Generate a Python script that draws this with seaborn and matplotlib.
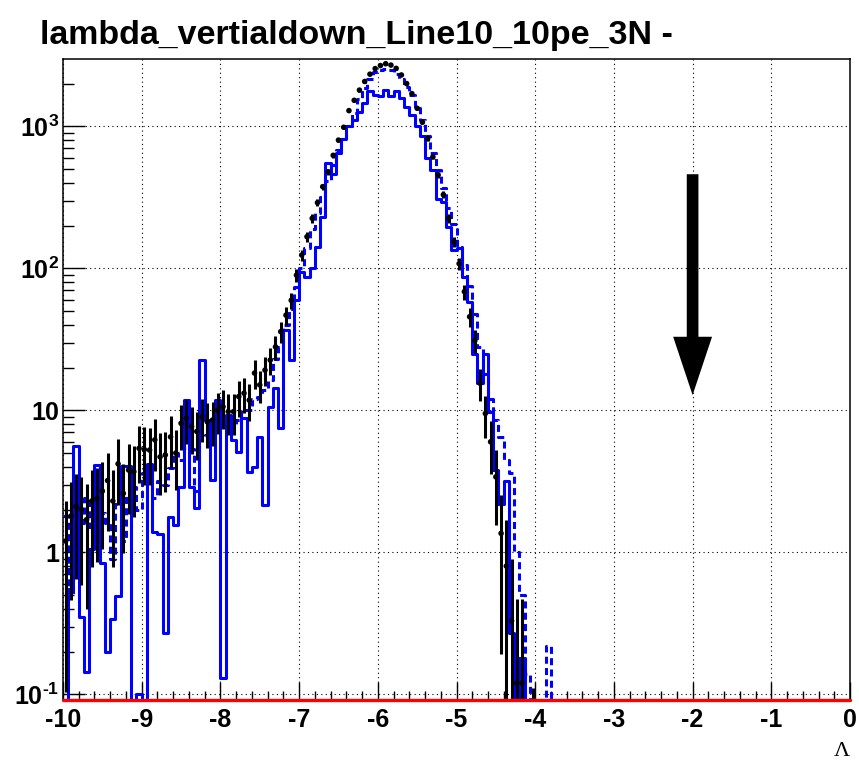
import numpy as np
import pandas as pd
import matplotlib
matplotlib.use("Agg")
import matplotlib.pyplot as plt
import seaborn as sns
from matplotlib.ticker import FixedLocator, MultipleLocator, LogLocator, NullFormatter

# Lambda binning: 150 equal bins on [-10, 0]
x_range = (-10.0, 0.0)
n_bins = 150

# Bin contents from the first bin (starting at -10) upward; later bins are empty.
data_counts = [
    1.2, 1.8, 2.1, 2.0, 1.7, 2.3, 2.4, 2.7, 3.2, 2.3,
    4.2, 2.6, 3.8, 3.7, 5.4, 5.3, 5.25, 6.2, 4.7, 4.85,
    6.5, 5.0, 8.1, 8.8, 7.7, 7.1, 9.0, 8.3, 8.55, 10.0,
    10.6, 9.8, 9.8, 12.5, 13.2, 11.8, 18.3, 15.1, 19.2, 22.6,
    28, 35.8, 46.8, 59.5, 89.5, 124, 167, 225, 290, 376,
    478, 625, 800, 985, 1290, 1525, 1800, 2070, 2330, 2550,
    2680, 2760, 2700, 2560, 2300, 2000, 1700, 1340, 1070, 820,
    610, 455, 330, 225, 154, 108, 68.5, 45.6, 31, 15.5,
    9.5, 6.0, 3.4, 1.36, 0.8, 0.33, 0.12, 0.12, 0, 0.01,
]

mc_dashed = [
    1.8, 0.5, 1.3, 1.6, 2.4, 1.5, 2.0, 1.9, 1.6, 0.9,
    2.2, 1.2, 2.5, 2.9, 2.0, 3.6, 3.0, 2.4, 3.2, 3.0,
    3.9, 5.0, 4.5, 5.4, 5.3, 2.7, 6.5, 6.7, 6.0, 7.5,
    9.0, 7.5, 8.0, 8.5, 10, 10, 12, 12.5, 14, 16.4,
    23, 28, 40, 52, 74, 100, 140, 190, 245, 320,
    410, 530, 680, 820, 1000, 1250, 1550, 1850, 2150, 2400,
    2500, 2530, 2480, 2350, 2150, 1900, 1650, 1350, 1100, 850,
    650, 490, 370, 265, 205, 142, 105, 75, 48, 28,
    18, 12, 8.5, 6.5, 4.5, 3.6, 1.0, 0.5, 0.14, 0,
    0, 0, 0.22,
]

mc_solid = [
    0, 0.55, 5.6, 0.35, 0.144, 1.05, 4.1, 0.84, 0.2, 0.34,
    0.49, 4.05, 4.05, 0, 0.1, 0, 4.2, 1.4, 1.35, 0.27,
    1.78, 1.56, 2.9, 11.9, 2.9, 2.04, 22.6, 8.55, 3.23, 11.9,
    0.13, 9.25, 6.2, 5.1, 8.8, 3.7, 4.0, 6.5, 2.15, 10.6,
    14.3, 7.5, 36.7, 22.6, 59.5, 94.4, 87.5, 100, 142, 230,
    551, 465, 645, 812, 1000, 1105, 1265, 1450, 1780, 1650,
    1635, 1800, 1635, 1780, 1575, 1370, 1200, 1000, 850, 595,
    490, 310, 294, 195, 134, 140, 87.5, 58, 25, 15.5,
    25, 9.8, 3.8, 2.2, 3.2, 0.27, 0, 0.18,
]

x_ticks = [-10, -9, -8, -7, -6, -5, -4, -3, -2, -1, 0]
x_tick_labels = ["-10", "-9", "-8", "-7", "-6", "-5", "-4", "-3", "-2", "-1", "0"]
y_ticks = [0.1, 1, 10, 100, 1000]
y_tick_labels = [r"$10^{\text{-1}}$", "1", "10", r"$10^{2}$", r"$10^{3}$"]

# Selection cut marker
cut_value = -2.0
arrow_top, arrow_tip = 460.0, 12.8

title = "lambda_vertialdown_Line10_10pe_3N -"
x_label = "\u039b"

edges = np.linspace(x_range[0], x_range[1], n_bins + 1)
centers = 0.5 * (edges[:-1] + edges[1:])


def padded(values):
    out = np.zeros(n_bins)
    out[:len(values)] = values
    return out


df = pd.DataFrame({
    "lam": centers,
    "data": padded(data_counts),
    "dashed": padded(mc_dashed),
    "solid": padded(mc_solid),
})

sns.set_style("white")
plt.rcParams.update({
    "font.family": ["Liberation Sans", "DejaVu Sans"],
    "font.weight": "bold",
    "mathtext.fontset": "custom",
    "mathtext.rm": "Liberation Sans:bold",
    "mathtext.it": "Liberation Sans:bold",
    "mathtext.bf": "Liberation Sans:bold",
    "text.color": "black",
    "axes.labelcolor": "black",
    "axes.edgecolor": "black",
    "axes.linewidth": 1.1,
    "xtick.color": "black",
    "ytick.color": "black",
})

fig = plt.figure(figsize=(8.59, 7.64), dpi=100)
ax = fig.add_axes([63 / 859, 1 - 700 / 764, 787 / 859, 641 / 764])
ax.set_yscale("log")

blue = (0, 0, 1)
sns.histplot(data=df, x="lam", weights="dashed", bins=n_bins, binrange=x_range,
             element="step", fill=False, color=blue, linewidth=2.2,
             linestyle=(0, (2.3, 1.4)), ax=ax, zorder=3)
sns.histplot(data=df, x="lam", weights="solid", bins=n_bins, binrange=x_range,
             element="step", fill=False, color=blue, linewidth=2.2, ax=ax, zorder=3)

pts = df[df["data"] > 0]
err = np.sqrt(pts["data"].to_numpy())
lower = np.minimum(err, pts["data"].to_numpy() - 1e-4)
ax.errorbar(pts["lam"], pts["data"], yerr=[lower, err], fmt="none",
            ecolor="black", elinewidth=2.2, capsize=0, zorder=4)
sns.scatterplot(data=pts, x="lam", y="data", color="black", s=16, marker="o",
                edgecolor="none", ax=ax, zorder=5)

ax.set_xlim(*x_range)
y_lo, y_hi = 0.0912, 2980
ax.set_ylim(y_lo, y_hi)

# Red baseline along the bottom of the frame
ax.axhline(y_lo, color="red", linewidth=2.4, clip_on=False, zorder=6)

# Cut arrow
ax.annotate("", xy=(cut_value, arrow_tip), xytext=(cut_value, arrow_top),
            arrowprops=dict(arrowstyle="simple,head_length=42,head_width=28,tail_width=8.4",
                            mutation_scale=1, facecolor="black", edgecolor="black",
                            linewidth=0, shrinkA=0, shrinkB=0),
            zorder=7)

ax.xaxis.set_major_locator(FixedLocator(x_ticks))
ax.set_xticklabels(x_tick_labels)
ax.xaxis.set_minor_locator(MultipleLocator(0.2))
ax.yaxis.set_major_locator(FixedLocator(y_ticks))
ax.set_yticklabels(y_tick_labels)
ax.yaxis.set_minor_locator(LogLocator(base=10, subs=np.arange(2, 10)))
ax.yaxis.set_minor_formatter(NullFormatter())

ax.tick_params(axis="x", which="major", direction="in", length=13, width=1,
               pad=6, labelsize=18, top=False, bottom=True)
ax.tick_params(axis="x", which="minor", direction="in", length=6.5, width=1,
               top=False, bottom=True)
ax.tick_params(axis="y", which="major", direction="in", length=16, width=1,
               pad=2.5, labelsize=18, right=False, left=True)
ax.tick_params(axis="y", which="minor", direction="in", length=8, width=1,
               right=False, left=True)
for lbl in ax.get_xticklabels() + ax.get_yticklabels():
    lbl.set_fontweight("bold")
    lbl.set_color("black")

ax.grid(True, which="major", color="black", linestyle=(0, (1, 3)), linewidth=0.8)
ax.set_axisbelow(True)
ax.set_xlabel("")
ax.set_ylabel("")
for s in ax.spines.values():
    s.set_visible(True)
    s.set_color("black")

fig.text(40 / 859, 1 - 44 / 764, title, ha="left", va="baseline",
         fontsize=24.5, fontweight="bold", color="black")
fig.text(842 / 859, 1 - 752 / 764, x_label, ha="center", va="center",
         fontsize=16, fontweight="normal", color="black",
         family=["Liberation Serif", "DejaVu Serif"])

fig.savefig("out.png", dpi=100)
